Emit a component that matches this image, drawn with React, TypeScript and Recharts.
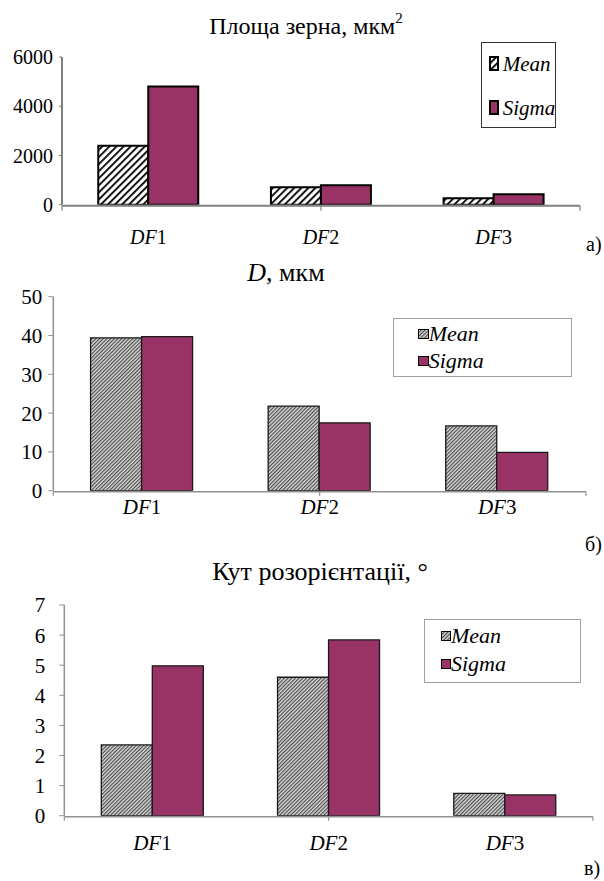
import React from 'react';
import { BarChart, Bar, XAxis, YAxis, Legend, ReferenceArea } from 'recharts';

// ---- data ----
const categories = ['DF1', 'DF2', 'DF3'];
const seriesNames = ['Mean', 'Sigma'];

const areaMean = [2390, 710, 260];
const areaSigma = [4800, 790, 420];
const areaTicks = [0, 2000, 4000, 6000];

const diamMean = [39.4, 21.8, 16.7];
const diamSigma = [39.7, 17.5, 9.9];
const diamTicks = [0, 10, 20, 30, 40, 50];

const angleMean = [2.35, 4.6, 0.74];
const angleSigma = [4.98, 5.84, 0.69];
const angleTicks = [0, 1, 2, 3, 4, 5, 6, 7];

const panelLetters = ['а)', 'б)', 'в)'];
const edgeTicks = [0, 1, 2, 3];

const SERIF =
  'Liberation Serif, Tinos, Times New Roman, Times, Nimbus Roman, Nimbus Roman No9 L, FreeSerif, DejaVu Serif, Noto Serif, serif';
const MAROON = '#993366';

const toRows = (mean: number[], sigma: number[]) =>
  categories.map((c, i) => ({ name: c, [seriesNames[0]]: mean[i], [seriesNames[1]]: sigma[i] }));

// "DF" in italic, the index upright
function CategoryTick(props: any) {
  const { x, y, payload, offset, fontSize } = props;
  const label = String(payload.value);
  return (
    <text x={x} y={y + offset} textAnchor="middle" dominantBaseline="central" fontFamily={SERIF} fontSize={fontSize} fill="#000">
      <tspan fontStyle="italic">{label.slice(0, 2)}</tspan>
      <tspan>{label.slice(2)}</tspan>
    </text>
  );
}

const NoLabel = () => <g />;

function LegendBox(props: any) {
  const { payload, cfg } = props;
  const items = payload || [];
  return (
    <div
      style={{
        position: 'relative',
        width: cfg.w,
        height: cfg.h,
        boxSizing: 'border-box',
        border: `1px solid ${cfg.border}`,
        background: '#fff',
      }}
    >
      {items.map((e: any, i: number) => (
        <div
          key={String(e.value)}
          style={{
            position: 'absolute',
            left: cfg.swatchX,
            top: cfg.rowY[i] - 12,
            height: 24,
            display: 'flex',
            alignItems: 'center',
            whiteSpace: 'nowrap',
          }}
        >
          <svg width={cfg.sw} height={cfg.sh} style={{ display: 'block' }}>
            <rect
              x={cfg.swBorder / 2}
              y={cfg.swBorder / 2}
              width={cfg.sw - cfg.swBorder}
              height={cfg.sh - cfg.swBorder}
              fill={e.color}
              stroke="#000"
              strokeWidth={cfg.swBorder}
            />
          </svg>
          <span
            style={{
              marginLeft: cfg.gap,
              fontFamily: SERIF,
              fontStyle: 'italic',
              fontSize: cfg.font,
              lineHeight: '24px',
              color: '#000',
            }}
          >
            {e.value}
          </span>
        </div>
      ))}
    </div>
  );
}

function Panel(p: any) {
  return (
    <div style={{ position: 'absolute', left: 0, top: p.top, width: 604, height: p.height }}>
      <BarChart width={604} height={p.height} data={p.rows} margin={p.margin} barCategoryGap="21%" barGap={0}>
        <defs>{p.pattern}</defs>
        <XAxis
          xAxisId="edges"
          type="number"
          domain={[0, 3]}
          ticks={edgeTicks}
          allowDataOverflow
          interval={0}
          height={1}
          tick={NoLabel}
          tickSize={p.edgeTick}
          axisLine={{ stroke: p.axisColor, strokeWidth: p.axisWidth }}
          tickLine={{ stroke: p.axisColor, strokeWidth: 1.2 }}
        />
        <XAxis
          dataKey="name"
          height={1}
          axisLine={false}
          tickLine={false}
          tickSize={0}
          tickMargin={0}
          interval={0}
          tick={(t: any) => <CategoryTick {...t} offset={p.catOffset} fontSize={p.catFont} />}
        />
        <YAxis
          domain={[0, p.domainMax]}
          ticks={p.ticks}
          interval={0}
          allowDataOverflow
          width={p.yWidth}
          tickSize={p.tickSize}
          tickMargin={p.tickMargin}
          axisLine={{ stroke: p.axisColor, strokeWidth: p.axisWidth }}
          tickLine={{ stroke: p.axisColor, strokeWidth: 1 }}
          tick={{ fontSize: p.tickFont, fill: '#000', fontFamily: SERIF }}
        />
        <ReferenceArea fill="none" stroke={p.frameColor} strokeWidth={p.frameWidth} fillOpacity={0} />
        <Bar
          dataKey={seriesNames[0]}
          name={seriesNames[0]}
          fill={`url(#${p.patternId})`}
          stroke={p.barStroke}
          strokeWidth={p.barStrokeWidth}
          isAnimationActive={false}
        />
        <Bar
          dataKey={seriesNames[1]}
          name={seriesNames[1]}
          fill={MAROON}
          stroke={p.barStroke}
          strokeWidth={p.barStrokeWidth}
          isAnimationActive={false}
        />
        <Legend
          layout="vertical"
          align="center"
          verticalAlign="middle"
          wrapperStyle={{ left: p.legend.x, top: p.legend.y, width: p.legend.w, height: p.legend.h }}
          content={(lp: any) => <LegendBox {...lp} cfg={p.legend} />}
        />
      </BarChart>
    </div>
  );
}

function Title(props: any) {
  return (
    <div
      style={{
        position: 'absolute',
        left: props.cx,
        top: props.cy,
        transform: 'translate(-50%, -50%)',
        whiteSpace: 'nowrap',
        fontFamily: SERIF,
        fontSize: props.size,
        lineHeight: 1,
        color: '#000',
      }}
    >
      {props.children}
    </div>
  );
}

function Letter(props: any) {
  return (
    <div
      style={{
        position: 'absolute',
        left: props.x,
        top: props.y - 11,
        fontFamily: SERIF,
        fontSize: 20,
        lineHeight: '22px',
        color: '#000',
        whiteSpace: 'nowrap',
      }}
    >
      {props.children}
    </div>
  );
}

const widePattern = (
  <pattern id="hatchWide" width="5" height="5" patternUnits="userSpaceOnUse" patternTransform="rotate(45)">
    <rect width="5" height="5" fill="#fff" />
    <rect x="0" y="0" width="1.8" height="5" fill="#000" />
  </pattern>
);

const finePattern = (id: string) => (
  <pattern id={id} width="2.6" height="2.6" patternUnits="userSpaceOnUse" patternTransform="rotate(45)">
    <rect width="2.6" height="2.6" fill="#d4d4d4" />
    <rect x="0" y="0" width="1.1" height="2.6" fill="#4a4a4a" />
  </pattern>
);

export default function App() {
  return (
    <div style={{ position: 'absolute', left: 0, top: 0, width: 604, height: 881, background: '#fff', overflow: 'hidden' }}>
      <Panel
        top={0}
        height={255}
        rows={toRows(areaMean, areaSigma)}
        ticks={areaTicks}
        domainMax={6000}
        margin={{ top: 57, right: 24, bottom: 48.3, left: 0 }}
        yWidth={62}
        tickSize={3}
        tickMargin={6}
        tickFont={20}
        catOffset={32}
        catFont={20}
        edgeTick={5}
        axisColor="#808080"
        axisWidth={2}
        frameColor="#808080"
        frameWidth={2.2}
        barStroke="#000"
        barStrokeWidth={2}
        pattern={widePattern}
        patternId="hatchWide"
        legend={{ x: 480.7, y: 41.7, w: 75, h: 86, border: '#333', rowY: [21, 65], swatchX: 7, sw: 10, sh: 15, swBorder: 2, gap: 4, font: 21 }}
      />
      <Panel
        top={250}
        height={295}
        rows={toRows(diamMean, diamSigma)}
        ticks={diamTicks}
        domainMax={50}
        margin={{ top: 46.7, right: 18, bottom: 52.3, left: 0 }}
        yWidth={53.3}
        tickSize={5}
        tickMargin={6}
        tickFont={21}
        catOffset={16}
        catFont={21}
        edgeTick={4}
        axisColor="#909090"
        axisWidth={1.5}
        frameColor="#a6a6a6"
        frameWidth={1.5}
        barStroke="#1a1a1a"
        barStrokeWidth={1.3}
        pattern={finePattern('hatchFineD')}
        patternId="hatchFineD"
        legend={{ x: 392.7, y: 68.3, w: 179, h: 59, border: '#a0a0a0', rowY: [14.7, 41.7], swatchX: 24, sw: 11, sh: 10, swBorder: 1, gap: 0, font: 22 }}
      />
      <Panel
        top={550}
        height={331}
        rows={toRows(angleMean, angleSigma)}
        ticks={angleTicks}
        domainMax={7}
        margin={{ top: 55, right: 11, bottom: 63.3, left: 0 }}
        yWidth={64.3}
        tickSize={5}
        tickMargin={14}
        tickFont={21}
        catOffset={27.6}
        catFont={21}
        edgeTick={4}
        axisColor="#909090"
        axisWidth={1.5}
        frameColor="#a6a6a6"
        frameWidth={1.5}
        barStroke="#1a1a1a"
        barStrokeWidth={1.3}
        pattern={finePattern('hatchFineK')}
        patternId="hatchFineK"
        legend={{ x: 423.6, y: 69, w: 157.4, h: 63.7, border: '#a0a0a0', rowY: [16, 44.3], swatchX: 16.4, sw: 10, sh: 10, swBorder: 1, gap: 0, font: 22 }}
      />

      <Title cx={306} cy={26} size={24}>
        Площа зерна, мкм<sup style={{ fontSize: 15, verticalAlign: 'top', position: 'relative', top: -3 }}>2</sup>
      </Title>
      <Title cx={286} cy={273} size={26}>
        <i>D</i>, мкм
      </Title>
      <Title cx={320} cy={572} size={26}>
        Кут розорієнтації, °
      </Title>

      <Letter x={586} y={244}>{panelLetters[0]}</Letter>
      <Letter x={585} y={544}>{panelLetters[1]}</Letter>
      <Letter x={584} y={868}>{panelLetters[2]}</Letter>
    </div>
  );
}
